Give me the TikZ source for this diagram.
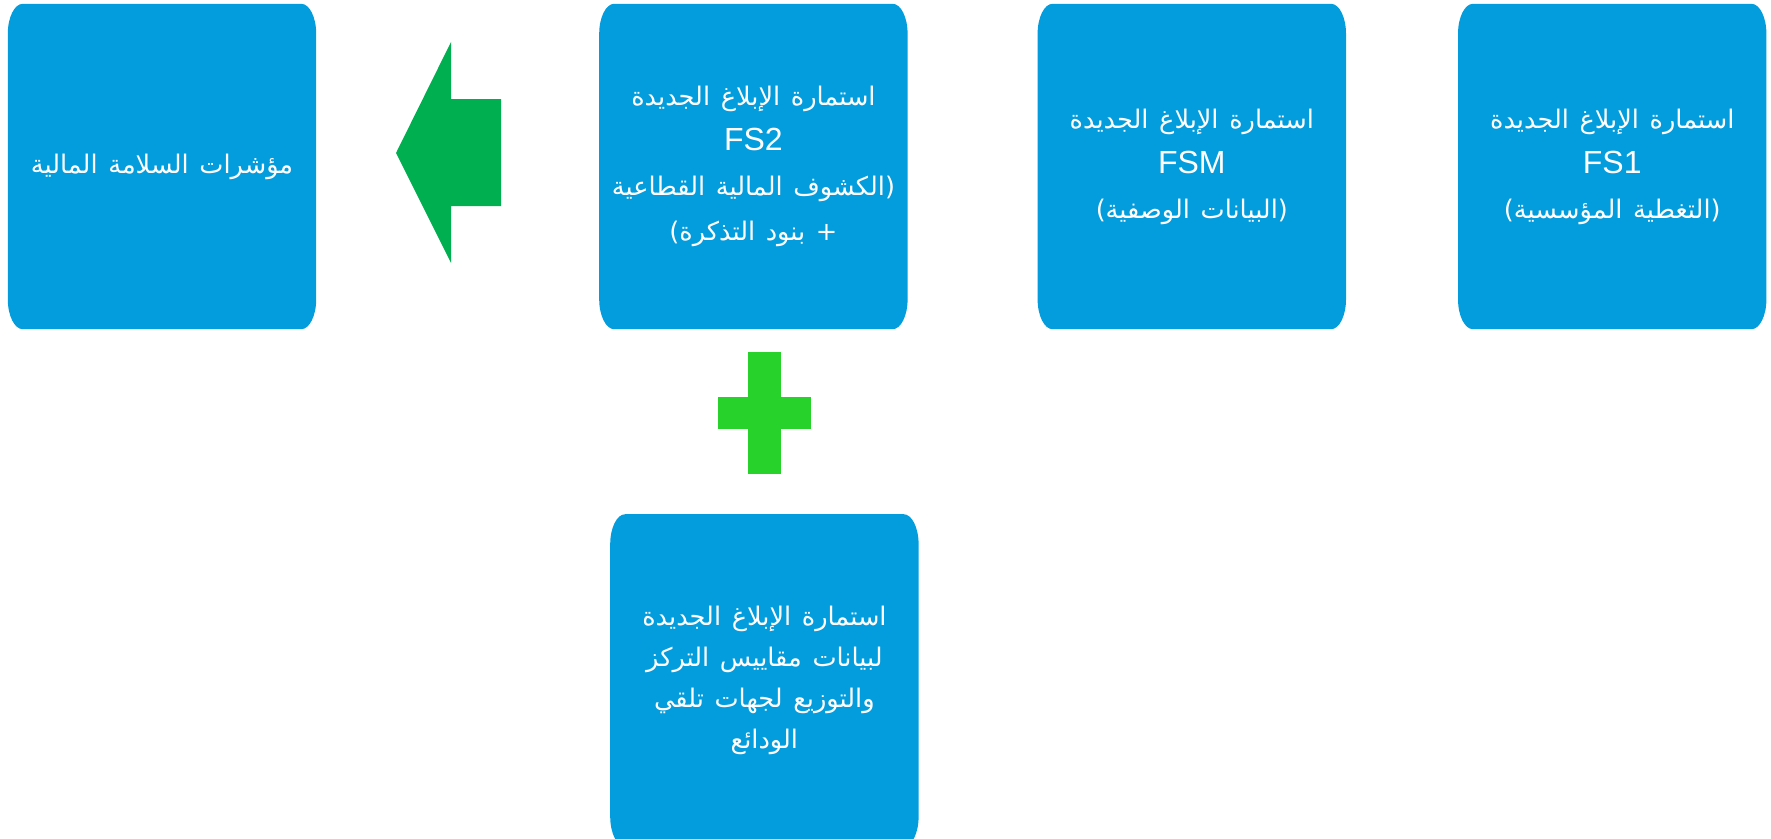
\documentclass[tikz,border=0pt]{standalone}
\usepackage{fontspec}
\setmainfont{Liberation Sans}
\newfontfamily\arabicfont[Script=Arabic, Scale=0.8]{DejaVu Sans}
\TeXXeTstate=1
\usetikzlibrary{positioning}
\usetikzlibrary{backgrounds}

\definecolor{formblue}{RGB}{3,157,221}
\definecolor{arrowgreen}{RGB}{0,176,80}
\definecolor{plusgreen}{RGB}{39,210,42}

\newcommand{\artext}[1]{{\arabicfont\beginR #1\endR}}

\begin{document}
\begin{tikzpicture}[x=1pt, y=-1pt,
    formbox/.style={text width=284pt, inner xsep=12pt, inner ysep=0pt,
      minimum height=325pt, text=white, align=center,
      font=\fontsize{32}{45}\selectfont}]
    \useasboundingbox (0,0) rectangle (1771,838);

    \node[formbox] (fsi) at (162, 166.5) {\artext{مؤشرات السلامة المالية}};
    \node[formbox, right=283pt of fsi] (fs2) {\artext{استمارة الإبلاغ الجديدة}\\
      FS2\\
      \artext{(الكشوف المالية القطاعية}\\
      \artext{+ بنود التذكرة)}};
    \node[formbox, right=130pt of fs2] (fsm) {\artext{استمارة الإبلاغ الجديدة}\\
      FSM\\
      \artext{(البيانات الوصفية)}};
    \node[formbox, right=112pt of fsm] (fs1) {\artext{استمارة الإبلاغ الجديدة}\\
      FS1\\
      \artext{(التغطية المؤسسية)}};
    \node[formbox, minimum height=332pt, below=185pt of fs2, xshift=11pt,
      font=\fontsize{32}{41}\selectfont] (deposits)
      {\artext{استمارة الإبلاغ الجديدة}\\
      \artext{لبيانات مقاييس التركز}\\
      \artext{والتوزيع لجهات تلقي}\\
      \artext{الودائع}};

    \begin{scope}[on background layer]
      \clip (0,0) rectangle (1771,838);
      \foreach \n in {fsi, fs2, fsm, fs1, deposits}
        \fill[formblue] ([xshift=15pt]\n.north west) -- ([xshift=-15pt]\n.north east)
          arc[start angle=90, end angle=0, x radius=15pt, y radius=30pt]
          -- ([yshift=30pt]\n.south east)
          arc[start angle=0, end angle=-90, x radius=15pt, y radius=30pt]
          -- ([xshift=15pt]\n.south west)
          arc[start angle=-90, end angle=-180, x radius=15pt, y radius=30pt]
          -- ([yshift=-30pt]\n.north west)
          arc[start angle=180, end angle=90, x radius=15pt, y radius=30pt]
          -- cycle;
    \end{scope}

    \fill[arrowgreen] (396, 153) -- (451, 42) -- (451, 99) -- (501, 99)
      -- (501, 206) -- (451, 206) -- (451, 263) -- cycle;

    \fill[plusgreen] (748, 352) rectangle (781, 474);
    \fill[plusgreen] (718, 397) rectangle (811, 429);
\end{tikzpicture}
\end{document}
